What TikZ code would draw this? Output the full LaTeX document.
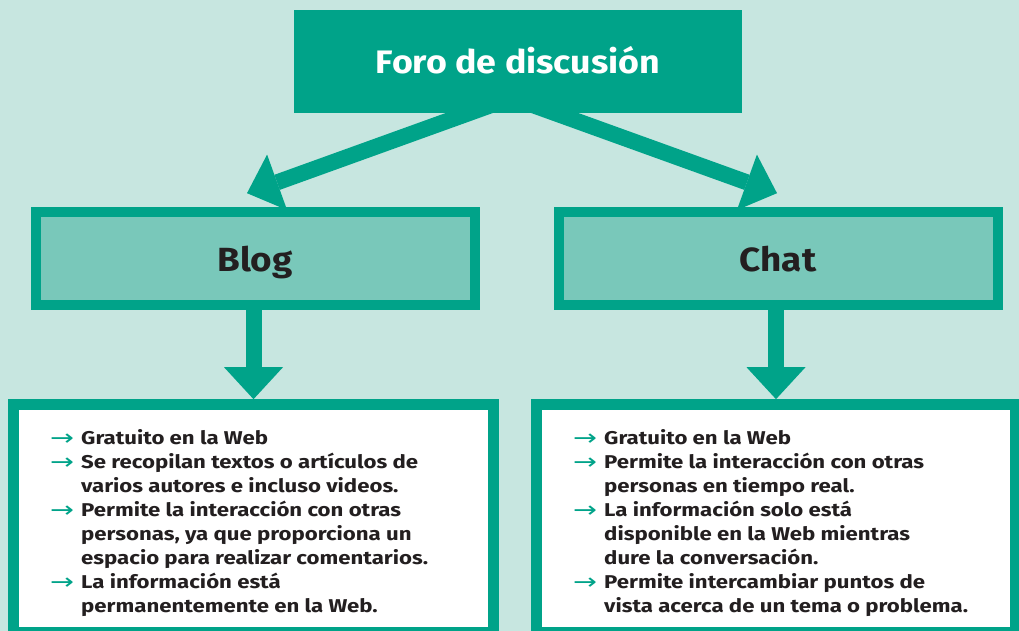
\documentclass[tikz,border=0pt]{standalone}
\usepackage{fontspec}
\setmainfont{Fira Sans}[FakeStretch=1.2]
\newfontfamily\tituloFont{Fira Sans}[FakeStretch=1.1]
\newfontfamily\flechaFont{DejaVu Sans}
\usepackage{tikz}
\usepackage{xcolor}
\usetikzlibrary{arrows.meta, positioning, calc, backgrounds}
\definecolor{cVerde}{RGB}{0,163,137}
\definecolor{cFondo}{RGB}{199,230,224}
\definecolor{cClaro}{RGB}{121,200,186}
\definecolor{cTinta}{RGB}{35,31,32}
\newcommand{\flecha}{\makebox[31pt][l]{\raisebox{-1pt}{\scalebox{1.3}[1]{\flechaFont\mdseries\fontsize{22}{22}\selectfont\textcolor{cVerde}{→}}}}}
\newcommand{\sigue}{\hspace*{31pt}}
\tikzset{
	titulo/.style ={rectangle, fill=cVerde, minimum width=448pt, minimum height=102.7pt, text height=25.3pt, text depth=0pt, text=white, font=\tituloFont\fontsize{32.5}{38}\selectfont\bfseries},
	caja/.style   ={rectangle, draw=cVerde, line width=10pt, fill=cClaro, minimum width=439pt, minimum height=93pt, text height=26.4pt, text depth=0pt, text=cTinta, font=\tituloFont\fontsize{33.5}{38}\selectfont\bfseries},
	marco/.style  ={rectangle, draw=cVerde, line width=11pt, fill=white, minimum width=480pt, minimum height=228pt},
	lista/.style  ={align=left, inner sep=0pt, anchor=north west, text=cTinta, font=\fontsize{18.5}{24}\selectfont\bfseries},
	flechagorda/.style={draw=cVerde, line width=16pt, -{Triangle[length=32pt, width=59pt, line width=0pt]}},
}
\begin{document}
\begin{tikzpicture}[x=1pt, y=1pt]
	\useasboundingbox (0,0) rectangle (1019,631);
	\clip (0,0) rectangle (1019,631);
	\node[titulo] (foro) at (518,569.65) {Foro de discusión};
	\node[caja, below=94.3pt of foro, xshift=-263pt] (blog) {Blog};
	\node[caja, below=94.3pt of foro, xshift=260pt] (chat) {Chat};
	\node[marco, below=89pt of blog, xshift=-1.5pt] (lblog) {};
	\node[marco, below=89pt of chat, xshift=-2pt, minimum width=479pt] (lchat) {};
	\node[lista] (tblog) at ($(lblog.north west)+(42,-30)$) {%
		\flecha Gratuito en la Web\\
		\flecha Se recopilan textos o artículos de\\
		\sigue varios autores e incluso videos.\\
		\flecha Permite la interacción con otras\\
		\sigue personas, ya que proporciona un\\
		\sigue espacio para realizar comentarios.\\
		\flecha La información está\\
		\sigue permanentemente en la Web.};
	\node[lista] (tchat) at ($(lchat.north west)+(42,-30)$) {%
		\flecha Gratuito en la Web\\
		\flecha Permite la interacción con otras\\
		\sigue personas en tiempo real.\\
		\flecha La información solo está\\
		\sigue disponible en la Web mientras\\
		\sigue dure la conversación.\\
		\flecha Permite intercambiar puntos de\\
		\sigue vista acerca de un tema o problema.};
	\coordinate (orig) at ($(foro.south)+(-6,15.3)$);
	\coordinate (pblog) at ($(blog.north)+(-8,14)$);
	\coordinate (pchat) at ($(chat.north)+(-1,14)$);
	\begin{scope}[on background layer]
		\fill[cFondo] (0,0) rectangle (1019,631);
		\draw[flechagorda] (orig) -- (pblog);
		\draw[flechagorda] (orig) -- (pchat);
		\draw[flechagorda] (lblog.north |- blog.south) -- (lblog.north);
		\draw[flechagorda] (lchat.north |- chat.south) -- (lchat.north);
	\end{scope}
\end{tikzpicture}
\end{document}
